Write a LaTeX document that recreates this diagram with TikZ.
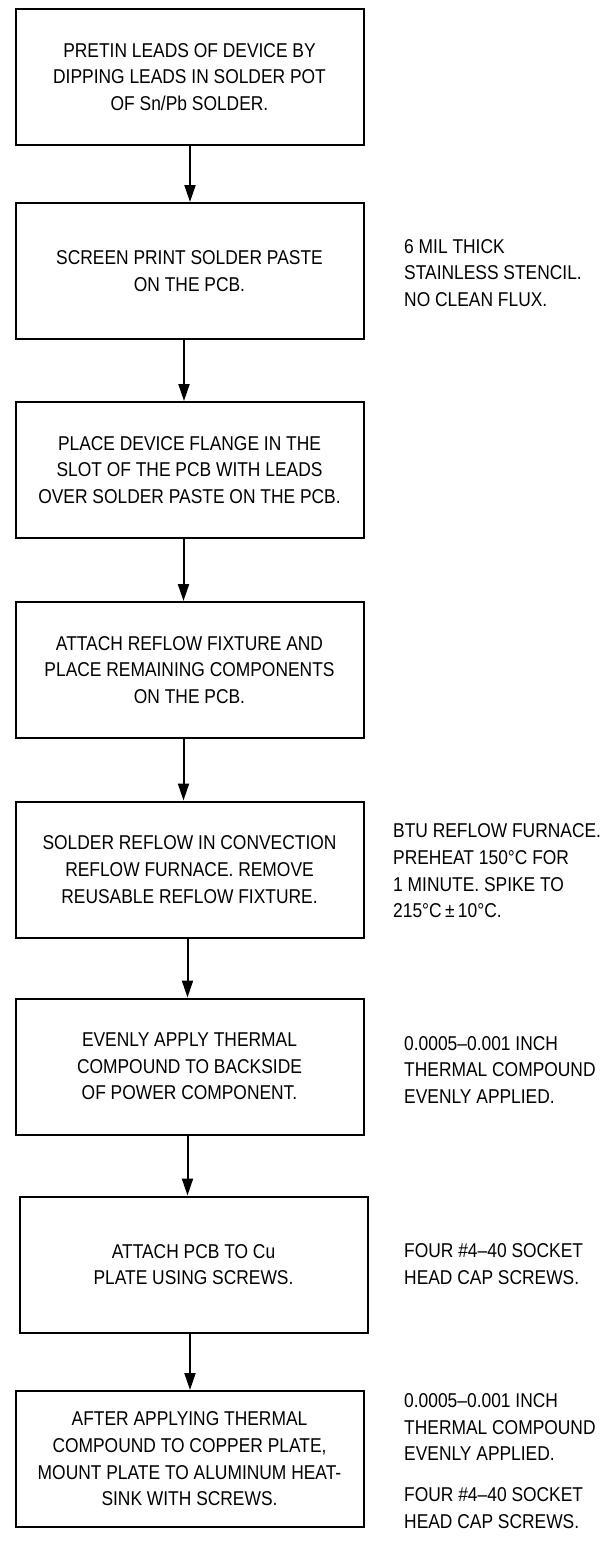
\documentclass[tikz,border=0pt]{standalone}
\usepackage{fontspec}
\setmainfont[FakeStretch=0.87]{Liberation Sans}
\usepackage{tikz}
\usetikzlibrary{arrows.meta}

\begin{document}
\begin{tikzpicture}[x=1pt,y=-1pt,
  >={Triangle[length=17pt,width=11pt]},
  stepbox/.style={draw, line width=2pt, minimum width=348pt, minimum height=136pt,
    inner sep=0pt, align=center, font=\fontsize{20}{26.7}\selectfont},
  note/.style={anchor=west, inner sep=0pt, align=left, font=\fontsize{20}{26.7}\selectfont}]
\useasboundingbox (0,0) rectangle (613,1543);
% Process steps
\node[stepbox] (b1) at (189.5,77) {PRETIN LEADS OF DEVICE BY\\DIPPING LEADS IN SOLDER POT\\OF Sn/Pb SOLDER.};
\node[stepbox] (b2) at (189.5,271) {SCREEN PRINT SOLDER PASTE\\ON THE PCB.};
\node[stepbox] (b3) at (189.5,470) {PLACE DEVICE FLANGE IN THE\\SLOT OF THE PCB WITH LEADS\\OVER SOLDER PASTE ON THE PCB.};
\node[stepbox] (b4) at (189.5,670) {ATTACH REFLOW FIXTURE AND\\PLACE REMAINING COMPONENTS\\ON THE PCB.};
\node[stepbox] (b5) at (189.5,869.5) {SOLDER REFLOW IN CONVECTION\\REFLOW FURNACE. REMOVE\\REUSABLE REFLOW FIXTURE.};
\node[stepbox] (b6) at (189.5,1066.5) {EVENLY APPLY THERMAL\\COMPOUND TO BACKSIDE\\OF POWER COMPONENT.};
\node[stepbox] (b7) at (193.5,1264.5) {ATTACH PCB TO Cu\\PLATE USING SCREWS.};
\node[stepbox] (b8) at (189.5,1459) {AFTER APPLYING THERMAL\\COMPOUND TO COPPER PLATE,\\MOUNT PLATE TO ALUMINUM HEAT-\\SINK WITH SCREWS.};
% Flow arrows
\foreach \a/\b/\dx in {b1/b2/0.5, b2/b3/-5.5, b3/b4/-6, b4/b5/-6, b5/b6/-2, b6/b7/-2, b7/b8/-3.5} {
    \draw[->, line width=2pt] ([xshift=\dx pt]\a.south) -- ([xshift=\dx pt]\a.south |- \b.north);
}
% Side notes
\node[note] (n2) at (404,273) {6 MIL THICK\\STAINLESS STENCIL.\\NO CLEAN FLUX.};
\node[note] (n5) at (393,871) {BTU REFLOW FURNACE.\\PREHEAT 150°C FOR\\1 MINUTE. SPIKE TO\\215°C\,±\,10°C.};
\node[note] (n6) at (404,1070) {0.0005–0.001 INCH\\THERMAL COMPOUND\\EVENLY APPLIED.};
\node[note] (n7) at (404,1264) {FOUR \#4–40 SOCKET\\HEAD CAP SCREWS.};
\node[note] (n8) at (404,1461) {0.0005–0.001 INCH\\THERMAL COMPOUND\\EVENLY APPLIED.\\[14pt]FOUR \#4–40 SOCKET\\HEAD CAP SCREWS.};
\end{tikzpicture}
\end{document}
